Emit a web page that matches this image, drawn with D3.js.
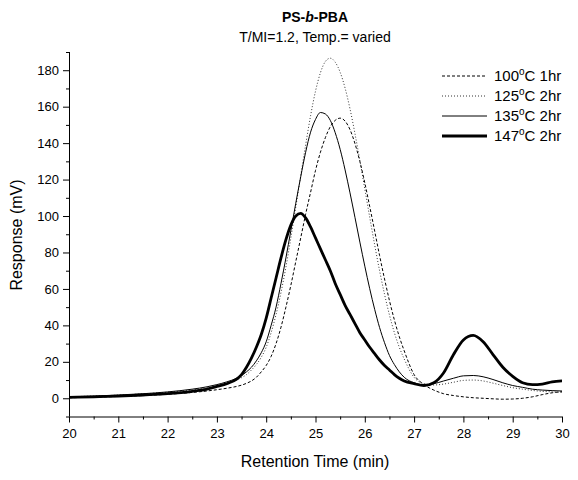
<!DOCTYPE html>
<html>
<head>
<meta charset="utf-8">
<script src="https://cdn.jsdelivr.net/npm/d3@7"></script>
<style>
  body { margin: 0; background: #fff; }
  svg { display: block; font-family: "Liberation Sans", Arial, sans-serif; }
</style>
</head>
<body>
<div id="graph"></div>
<script>
// retention time grid (min)
var times = [20,20.5,21,21.5,22,22.5,22.8,23.0,23.2,
  23.4,23.5,23.6,23.7,23.8,23.9,24.0,24.1,24.2,24.3,24.4,24.5,24.6,24.7,24.8,24.9,
  25.0,25.1,25.2,25.3,25.4,25.5,25.6,25.7,25.8,25.9,26.0,26.1,26.2,26.3,26.4,26.5,26.6,26.7,26.8,
  27.0,27.2,27.4,27.6,27.8,28.0,28.2,28.4,28.6,28.8,29.0,29.2,29.4,29.6,29.8,30.0];

// response (mV) for each run
var r100 = [0.3,0.6,1.0,1.5,2.2,3.2,4.0,4.7,5.5,
  6.5,7.2,8.2,9.5,11.5,14.5,18,23,30,39,50,62,75,88,101,113,
  125,135,143,149,152.5,153.7,152.1,147.4,139.8,129.9,118.2,105.2,91.8,78.3,65.5,53.6,43,33.8,26,
  13,7.5,4.5,2.5,1.5,0.8,0.3,0,-0.3,-0.5,-0.4,0,0.8,2,3,3.6];
var r125 = [0.8,1.2,1.7,2.4,3.3,4.6,5.7,6.8,8.2,
  10,11.3,13,15.5,18.5,22.5,28,36,46,58,72,88,105,122,139,155,
  168.5,178.6,184.8,186.6,184.4,178.9,170.2,158.8,145.3,130.5,114.9,99.3,84.2,70,57.1,45.7,36,28,21.5,
  11.5,8,7.3,7.8,8.8,9.8,10,9.5,8.3,7,5.8,5,4.3,3.8,3.5,3.3];
var r135 = [0.8,1.2,1.8,2.5,3.5,5,6.3,7.5,9,
  11,12.5,14.5,17,20.5,25,31,40,50,63,77,92,107,121.5,135,146,
  153,156.8,156,152.5,145.7,136.6,125.3,112.7,99.3,85.7,72.5,60.1,48.8,38.8,30.5,23.5,18.5,14.5,11.5,
  8.5,7.5,8,9.5,11,12.3,12.5,11.8,10.3,8.5,7,6,5,4.5,4.2,4];
var r147 = [0.5,0.8,1.2,1.8,2.5,3.8,5,6.5,8,
  10.5,13,17,22,28,35,44,55,66,77,87,95,100,101.5,99,94,
  88,82,76,70,63,57,51,46,41,36,32,28,24.5,21,18,15.5,13,11,9.5,
  8,7,8.5,14,24,32,34.5,31,24,17,12,8.5,7.5,7.8,9,9.5];

var seriesNames = ["100", "125", "135", "147"];
var seriesTimes = ["1hr", "2hr", "2hr", "2hr"];
var seriesValues = [r100, r125, r135, r147];

var xTicks = [20,21,22,23,24,25,26,27,28,29,30];
var yTicks = [0,20,40,60,80,100,120,140,160,180];

var styles = [
  {width: 1, dash: "3,2", color: "#000"},
  {width: 1, dash: "1,2", color: "#333"},
  {width: 1, dash: null, color: "#000"},
  {width: 2.8, dash: null, color: "#000"}
];

var W = 578, H = 480;

var svg = d3.select("#graph").append("svg")
  .attr("width", W)
  .attr("height", H);

var x = d3.scaleLinear().domain([20, 30]).range([69, 562]);
var y = d3.scaleLinear().domain([-10, 190]).range([416.5, 52]);

// axes
var xAxis = svg.append("g")
  .attr("transform", "translate(0,416.5)")
  .call(d3.axisBottom(x).tickValues(xTicks).tickSize(6).tickPadding(6).tickFormat(d3.format("d")));
var xMinor = svg.append("g")
  .attr("transform", "translate(0,416.5)")
  .call(d3.axisBottom(x).tickValues(d3.range(20.5, 30, 1)).tickSize(3).tickFormat(""));

var yAxis = svg.append("g")
  .attr("transform", "translate(69,0)")
  .call(d3.axisLeft(y).tickValues(yTicks).tickSize(6).tickPadding(4));
var yMinor = svg.append("g")
  .attr("transform", "translate(69,0)")
  .call(d3.axisLeft(y).tickValues(d3.range(-10, 191, 20)).tickSize(3).tickFormat(""));

[xAxis, xMinor, yAxis, yMinor].forEach(function(g) {
  g.select(".domain").attr("stroke", "#000").attr("stroke-width", 1);
  g.selectAll(".tick line").attr("stroke", "#000");
  g.selectAll("text").attr("font-size", 13).attr("fill", "#000")
    .attr("font-family", "Liberation Sans, Arial, sans-serif");
});
xMinor.select(".domain").remove();
yMinor.select(".domain").remove();
yAxis.select(".domain").attr("d", "M0.5," + y(190) + "V416.5");
xAxis.select(".domain").attr("d", "M69,0.5H" + x(30));

// curves
var line = d3.line()
  .x(function(d) { return x(d[0]); })
  .y(function(d) { return y(d[1]); })
  .curve(d3.curveMonotoneX);

seriesValues.forEach(function(vals, i) {
  var pts = times.map(function(t, k) { return [t, vals[k]]; });
  svg.append("path")
    .datum(pts)
    .attr("fill", "none")
    .attr("stroke", styles[i].color)
    .attr("stroke-width", styles[i].width)
    .attr("stroke-dasharray", styles[i].dash)
    .attr("stroke-linejoin", "round")
    .attr("d", line);
});

// titles
var title = svg.append("text")
  .attr("x", 315).attr("y", 22)
  .attr("text-anchor", "middle")
  .attr("font-size", 14).attr("font-weight", "bold");
title.append("tspan").text("PS-");
title.append("tspan").attr("font-style", "italic").text("b");
title.append("tspan").text("-PBA");

svg.append("text")
  .attr("x", 315).attr("y", 42)
  .attr("text-anchor", "middle")
  .attr("font-size", 14)
  .text("T/MI=1.2, Temp.= varied");

svg.append("text")
  .attr("x", 315).attr("y", 467)
  .attr("text-anchor", "middle")
  .attr("font-size", 16)
  .text("Retention Time (min)");

svg.append("text")
  .attr("transform", "translate(22,235) rotate(-90)")
  .attr("text-anchor", "middle")
  .attr("font-size", 16)
  .text("Response (mV)");

// legend
var legend = svg.append("g");
seriesNames.forEach(function(name, i) {
  var ly = 76 + i * 20;
  legend.append("line")
    .attr("x1", 442).attr("x2", 487)
    .attr("y1", ly).attr("y2", ly)
    .attr("stroke", styles[i].color)
    .attr("stroke-width", styles[i].width)
    .attr("stroke-dasharray", styles[i].dash);
  var t = legend.append("text")
    .attr("x", 494).attr("y", ly + 5)
    .attr("font-size", 15);
  t.append("tspan").text(name);
  t.append("tspan").attr("font-size", 10).attr("dy", -6).text("o");
  t.append("tspan").attr("dy", 6).text("C " + seriesTimes[i]);
});
</script>
</body>
</html>
